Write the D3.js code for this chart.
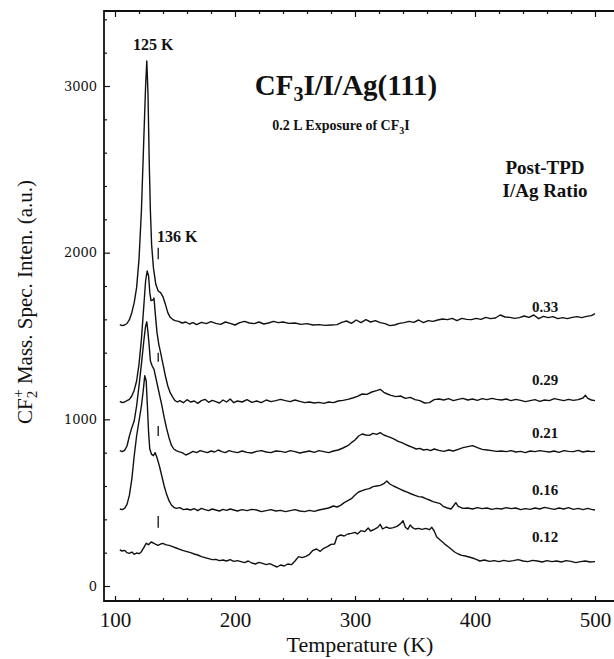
<!DOCTYPE html>
<html>
<head>
<meta charset="utf-8">
<script src="https://cdn.jsdelivr.net/npm/d3@7/dist/d3.min.js"></script>
<style>
  body { margin: 0; background: #fff; }
  text { font-family: "Liberation Serif", serif; fill: #111; }
</style>
</head>
<body>
<script>
// TPD traces of CF2+ signal, [temperature (K), intensity (a.u.)]
const s033 = [[104,1568],[106,1562],[108,1566],[110,1575],[112,1598],[114,1640],[116,1700],[118,1790],[120,1960],[122,2250],[124,2680],[125.5,3000],[126.5,3150],[127.5,2950],[128.5,2550],[129.5,2250],[130.5,2050],[132,1910],[134,1810],[136,1770],[138,1760],[140,1735],[142,1690],[144,1640],[146,1612],[148,1600],[150,1592],[153,1588],[156,1578],[159,1584],[162,1572],[165,1580],[168,1568],[172,1582],[176,1574],[180,1586],[184,1576],[188,1570],[192,1584],[196,1576],[200,1566],[204,1580],[208,1588],[212,1578],[216,1574],[220,1584],[224,1572],[228,1578],[232,1588],[236,1580],[240,1584],[245,1576],[250,1578],[255,1570],[260,1574],[265,1566],[270,1568],[275,1564],[280,1566],[285,1568],[289,1582],[293,1590],[297,1576],[301,1596],[305,1580],[309,1598],[313,1584],[317,1592],[321,1580],[325,1574],[329,1562],[333,1566],[337,1576],[341,1580],[345,1588],[349,1582],[353,1596],[357,1580],[361,1592],[365,1588],[369,1596],[373,1602],[377,1598],[381,1606],[385,1592],[389,1606],[393,1600],[397,1598],[401,1606],[405,1600],[409,1612],[413,1604],[417,1608],[421,1626],[425,1614],[429,1612],[433,1606],[437,1610],[441,1620],[445,1612],[449,1626],[453,1604],[457,1618],[461,1610],[465,1616],[469,1604],[473,1610],[477,1604],[481,1612],[485,1616],[489,1610],[493,1618],[497,1622],[500,1634]];

const s029 = [[104,1108],[106,1100],[108,1104],[110,1112],[112,1120],[114,1140],[116,1175],[118,1230],[120,1330],[122,1480],[124,1680],[125.5,1830],[126.8,1890],[128,1860],[129,1760],[130,1712],[131.5,1716],[132.5,1728],[133.5,1640],[135,1520],[136.5,1450],[138,1400],[140,1330],[142,1260],[144,1200],[146,1160],[148,1135],[150,1112],[152,1104],[154,1112],[157,1100],[160,1118],[163,1104],[166,1110],[169,1096],[172,1112],[175,1120],[178,1102],[181,1114],[184,1106],[187,1098],[190,1116],[193,1104],[196,1122],[199,1100],[202,1110],[206,1104],[210,1118],[214,1102],[218,1110],[222,1100],[226,1116],[230,1106],[234,1112],[238,1120],[242,1112],[246,1106],[250,1116],[254,1108],[258,1100],[262,1104],[266,1098],[270,1102],[274,1096],[278,1104],[282,1100],[286,1110],[290,1114],[294,1120],[298,1128],[302,1138],[306,1152],[310,1150],[314,1164],[318,1172],[321,1180],[324,1162],[327,1152],[330,1144],[334,1136],[338,1140],[342,1126],[346,1132],[350,1118],[354,1112],[358,1098],[362,1100],[366,1118],[370,1122],[374,1116],[378,1124],[382,1112],[386,1120],[390,1126],[394,1116],[398,1122],[402,1114],[406,1124],[410,1118],[414,1126],[418,1120],[422,1116],[426,1122],[430,1112],[434,1120],[438,1114],[442,1106],[446,1112],[450,1118],[454,1108],[458,1116],[462,1112],[466,1124],[470,1118],[474,1112],[478,1120],[482,1114],[486,1118],[490,1128],[492,1144],[494,1126],[497,1116],[500,1112]];

const s021 = [[104,812],[106,806],[108,814],[110,840],[112,900],[114,950],[116,990],[118,1080],[120,1200],[122,1330],[124,1470],[125.5,1560],[126.5,1585],[127.5,1520],[128.5,1440],[129.5,1350],[131,1320],[132.5,1300],[134,1250],[135.5,1200],[137,1150],[139,1085],[141,1010],[143,945],[145,890],[147,845],[149,822],[151,812],[153,806],[156,800],[159,786],[162,796],[165,808],[168,800],[171,812],[174,806],[177,800],[180,810],[183,804],[186,816],[189,806],[192,800],[195,812],[198,806],[202,800],[206,810],[210,802],[214,798],[218,808],[222,812],[226,804],[230,800],[234,810],[238,808],[242,802],[246,812],[250,806],[254,798],[258,804],[262,810],[266,802],[270,812],[274,806],[278,800],[282,810],[286,816],[290,828],[294,842],[297,860],[300,876],[303,900],[306,912],[309,906],[312,904],[315,916],[318,910],[321,920],[324,906],[327,898],[330,890],[333,880],[336,868],[339,860],[342,850],[345,840],[348,832],[351,822],[354,826],[357,816],[360,820],[363,812],[366,822],[370,814],[374,808],[378,816],[382,810],[386,820],[390,830],[394,836],[398,842],[402,830],[406,820],[410,816],[414,812],[418,808],[422,810],[426,806],[430,812],[434,804],[438,808],[442,800],[446,810],[450,806],[454,812],[458,808],[462,804],[466,810],[470,802],[474,812],[478,808],[482,806],[486,814],[490,804],[494,810],[497,806],[500,808]];

const s016 = [[104,462],[106,458],[108,466],[110,490],[112,545],[114,640],[116,780],[118,900],[120,990],[122,1080],[123.5,1170],[124.8,1262],[126,1230],[127,1080],[128,920],[129,820],[130.5,790],[132,782],[133.5,800],[135,770],[137,720],[139,660],[141,600],[143,550],[145,512],[147,486],[149,472],[151,466],[154,470],[157,458],[160,462],[163,456],[166,464],[169,452],[172,466],[175,458],[178,452],[181,462],[184,456],[187,450],[190,460],[193,454],[196,462],[199,456],[202,450],[206,458],[210,452],[214,460],[218,456],[222,446],[226,452],[230,458],[234,450],[238,454],[242,446],[246,452],[250,458],[254,450],[258,446],[262,454],[266,448],[270,456],[274,462],[278,468],[282,480],[285,474],[288,484],[291,500],[294,512],[297,524],[300,546],[303,564],[306,572],[309,580],[312,584],[315,596],[318,600],[321,604],[324,614],[326.5,630],[329,612],[332,600],[335,590],[338,580],[341,570],[344,562],[347,552],[350,544],[353,536],[356,534],[359,524],[362,516],[365,506],[368,500],[371,494],[374,476],[377,468],[380,462],[382,480],[384,500],[386,478],[390,466],[394,468],[398,462],[402,470],[406,464],[410,468],[414,460],[418,466],[422,462],[426,470],[430,464],[434,468],[438,458],[442,464],[446,460],[450,468],[454,462],[458,472],[462,466],[466,460],[470,468],[474,462],[478,470],[482,460],[486,466],[490,458],[494,466],[497,460],[500,456]];

const s012 = [[104,216],[106,210],[108,214],[110,200],[112,196],[114,204],[116,190],[118,198],[120,194],[122,206],[124,230],[126,256],[128,248],[130,264],[132,258],[134,250],[136,244],[138,252],[140,256],[142,248],[145,244],[148,236],[151,228],[154,220],[157,212],[160,206],[163,200],[166,192],[169,186],[172,176],[175,170],[178,164],[181,158],[184,160],[187,152],[190,156],[193,150],[196,158],[199,148],[202,152],[205,146],[208,140],[211,150],[214,138],[217,132],[220,142],[223,136],[226,128],[229,134],[232,124],[235,114],[238,126],[241,120],[244,132],[247,128],[250,150],[253,176],[256,170],[259,178],[262,190],[265,214],[268,222],[271,208],[274,226],[277,236],[280,250],[283,252],[285,296],[288,306],[291,300],[294,312],[297,316],[300,322],[302,312],[305,332],[308,326],[311,348],[313,330],[316,340],[319,352],[321,370],[323,342],[326,354],[329,346],[332,350],[335,358],[338,374],[340,392],[342,352],[344,340],[346,366],[348,350],[350,342],[353,346],[356,340],[359,346],[362,338],[364,352],[366,330],[368,296],[370,282],[372,270],[375,250],[378,234],[380,222],[383,204],[386,192],[389,184],[392,180],[395,174],[398,168],[401,160],[404,150],[408,156],[412,148],[416,152],[420,146],[424,154],[428,148],[432,152],[436,158],[440,150],[444,146],[448,154],[452,150],[456,144],[460,152],[464,146],[468,150],[472,144],[476,152],[480,148],[484,140],[488,146],[492,150],[496,144],[500,146]];

const series = [s033, s029, s021, s016, s012];
const ratios = ["0.33", "0.29", "0.21", "0.16", "0.12"];

// little "|" markers at 136 K under each trace, [low, high] intensity
const markT = 136;
const marks = [[1960, 2030], [1345, 1400], [900, 960], [350, 420]];

const xTicks = d3.range(100, 520, 20);
const yTicks = d3.range(0, 3401, 200);

const width = 614;
const height = 659;

const svg = d3.select("body").append("svg")
    .attr("width", width)
    .attr("height", height);

// escalas (marco: izquierda 104, abajo 601)
const x = d3.scaleLinear().domain([90.83, 517.5]).range([104, 616]);
const y = d3.scaleLinear().domain([-90, 3450]).range([601, 11]);

// trazas
const line = d3.line().x(d => x(d[0])).y(d => y(d[1]));
svg.selectAll("path.trace")
    .data(series)
    .enter().append("path")
    .attr("class", "trace")
    .attr("d", line)
    .attr("fill", "none")
    .attr("stroke", "#111")
    .attr("stroke-width", 1.4)
    .attr("stroke-linejoin", "round");

svg.selectAll("line.mark")
    .data(marks)
    .enter().append("line")
    .attr("x1", x(markT)).attr("x2", x(markT))
    .attr("y1", d => y(d[0])).attr("y2", d => y(d[1]))
    .attr("stroke", "#111")
    .attr("stroke-width", 1.3);

// ejes
const axB = svg.append("g").attr("transform", `translate(0,${y.range()[0]})`)
    .call(d3.axisBottom(x).tickValues(xTicks).tickSize(-4).tickPadding(0)
        .tickFormat(d => d % 100 === 0 ? d : ""));
axB.selectAll(".tick line").attr("y2", d => d % 100 === 0 ? -5 : -3);
axB.selectAll(".tick text").attr("y", 26).attr("dy", 0)
    .style("font-family", "Liberation Serif").style("font-size", "21px");

const axT = svg.append("g").attr("transform", `translate(0,${y.range()[1]})`)
    .call(d3.axisTop(x).tickValues(xTicks).tickSize(-3).tickFormat(""));
axT.selectAll(".tick line").attr("y2", d => d % 100 === 0 ? 6 : 3);

const axL = svg.append("g").attr("transform", `translate(${x.range()[0]},0)`)
    .call(d3.axisLeft(y).tickValues(yTicks).tickSize(-3).tickPadding(7)
        .tickFormat(d => d % 1000 === 0 ? d : ""));
axL.selectAll(".tick line").attr("x2", d => d % 1000 === 0 ? 6 : 3);
axL.selectAll(".tick text")
    .style("font-family", "DejaVu Serif").style("font-size", "13px");

svg.selectAll(".domain").remove();
svg.selectAll(".tick line").attr("stroke", "#111").attr("stroke-width", 1.2);

// marco
svg.append("path")
    .attr("d", `M${x.range()[1]},${y.range()[1]}H${x.range()[0]}V${y.range()[0]}H${x.range()[1]}`)
    .attr("fill", "none")
    .attr("stroke", "#111")
    .attr("stroke-width", 1.8);

// titulos de ejes
svg.append("text")
    .attr("x", 360).attr("y", 652)
    .attr("text-anchor", "middle")
    .style("font-size", "22px")
    .text("Temperature (K)");

const ylab = svg.append("text")
    .attr("transform", "translate(32,302) rotate(-90)")
    .attr("text-anchor", "middle")
    .style("font-size", "21px");
ylab.append("tspan").text("CF");
ylab.append("tspan").attr("dy", 5).style("font-size", "15px").text("2");
ylab.append("tspan").attr("dy", -14).attr("dx", -7).style("font-size", "15px").text("+");
ylab.append("tspan").attr("dy", 9).text(" Mass. Spec. Inten. (a.u.)");

// titulo
const title = svg.append("text")
    .attr("x", 346).attr("y", 95)
    .attr("text-anchor", "middle")
    .style("font-size", "29px")
    .style("font-weight", "bold");
title.append("tspan").text("CF");
title.append("tspan").attr("dy", 6).style("font-size", "20px").text("3");
title.append("tspan").attr("dy", -6).text("I/I/Ag(111)");

const sub = svg.append("text")
    .attr("x", 341).attr("y", 130)
    .attr("text-anchor", "middle")
    .style("font-size", "14px")
    .style("font-weight", "bold");
sub.append("tspan").text("0.2 L Exposure of CF");
sub.append("tspan").attr("dy", 4).style("font-size", "10px").text("3");
sub.append("tspan").attr("dy", -4).text("I");

// anotaciones de picos
svg.append("text").attr("x", 133).attr("y", 50)
    .style("font-size", "16px").style("font-weight", "bold").text("125 K");
svg.append("text").attr("x", 157).attr("y", 242)
    .style("font-size", "16px").style("font-weight", "bold").text("136 K");

// leyenda
svg.append("text").attr("x", 545).attr("y", 174).attr("text-anchor", "middle")
    .style("font-size", "19px").style("font-weight", "bold").text("Post-TPD");
svg.append("text").attr("x", 545).attr("y", 197).attr("text-anchor", "middle")
    .style("font-size", "19px").style("font-weight", "bold").text("I/Ag Ratio");

const labelY = [312, 385, 438, 495, 542];
svg.selectAll("text.ratio")
    .data(ratios)
    .enter().append("text")
    .attr("class", "ratio")
    .attr("x", 545)
    .attr("y", (d, i) => labelY[i])
    .attr("text-anchor", "middle")
    .style("font-size", "15px")
    .style("font-weight", "bold")
    .text(d => d);
</script>
</body>
</html>
